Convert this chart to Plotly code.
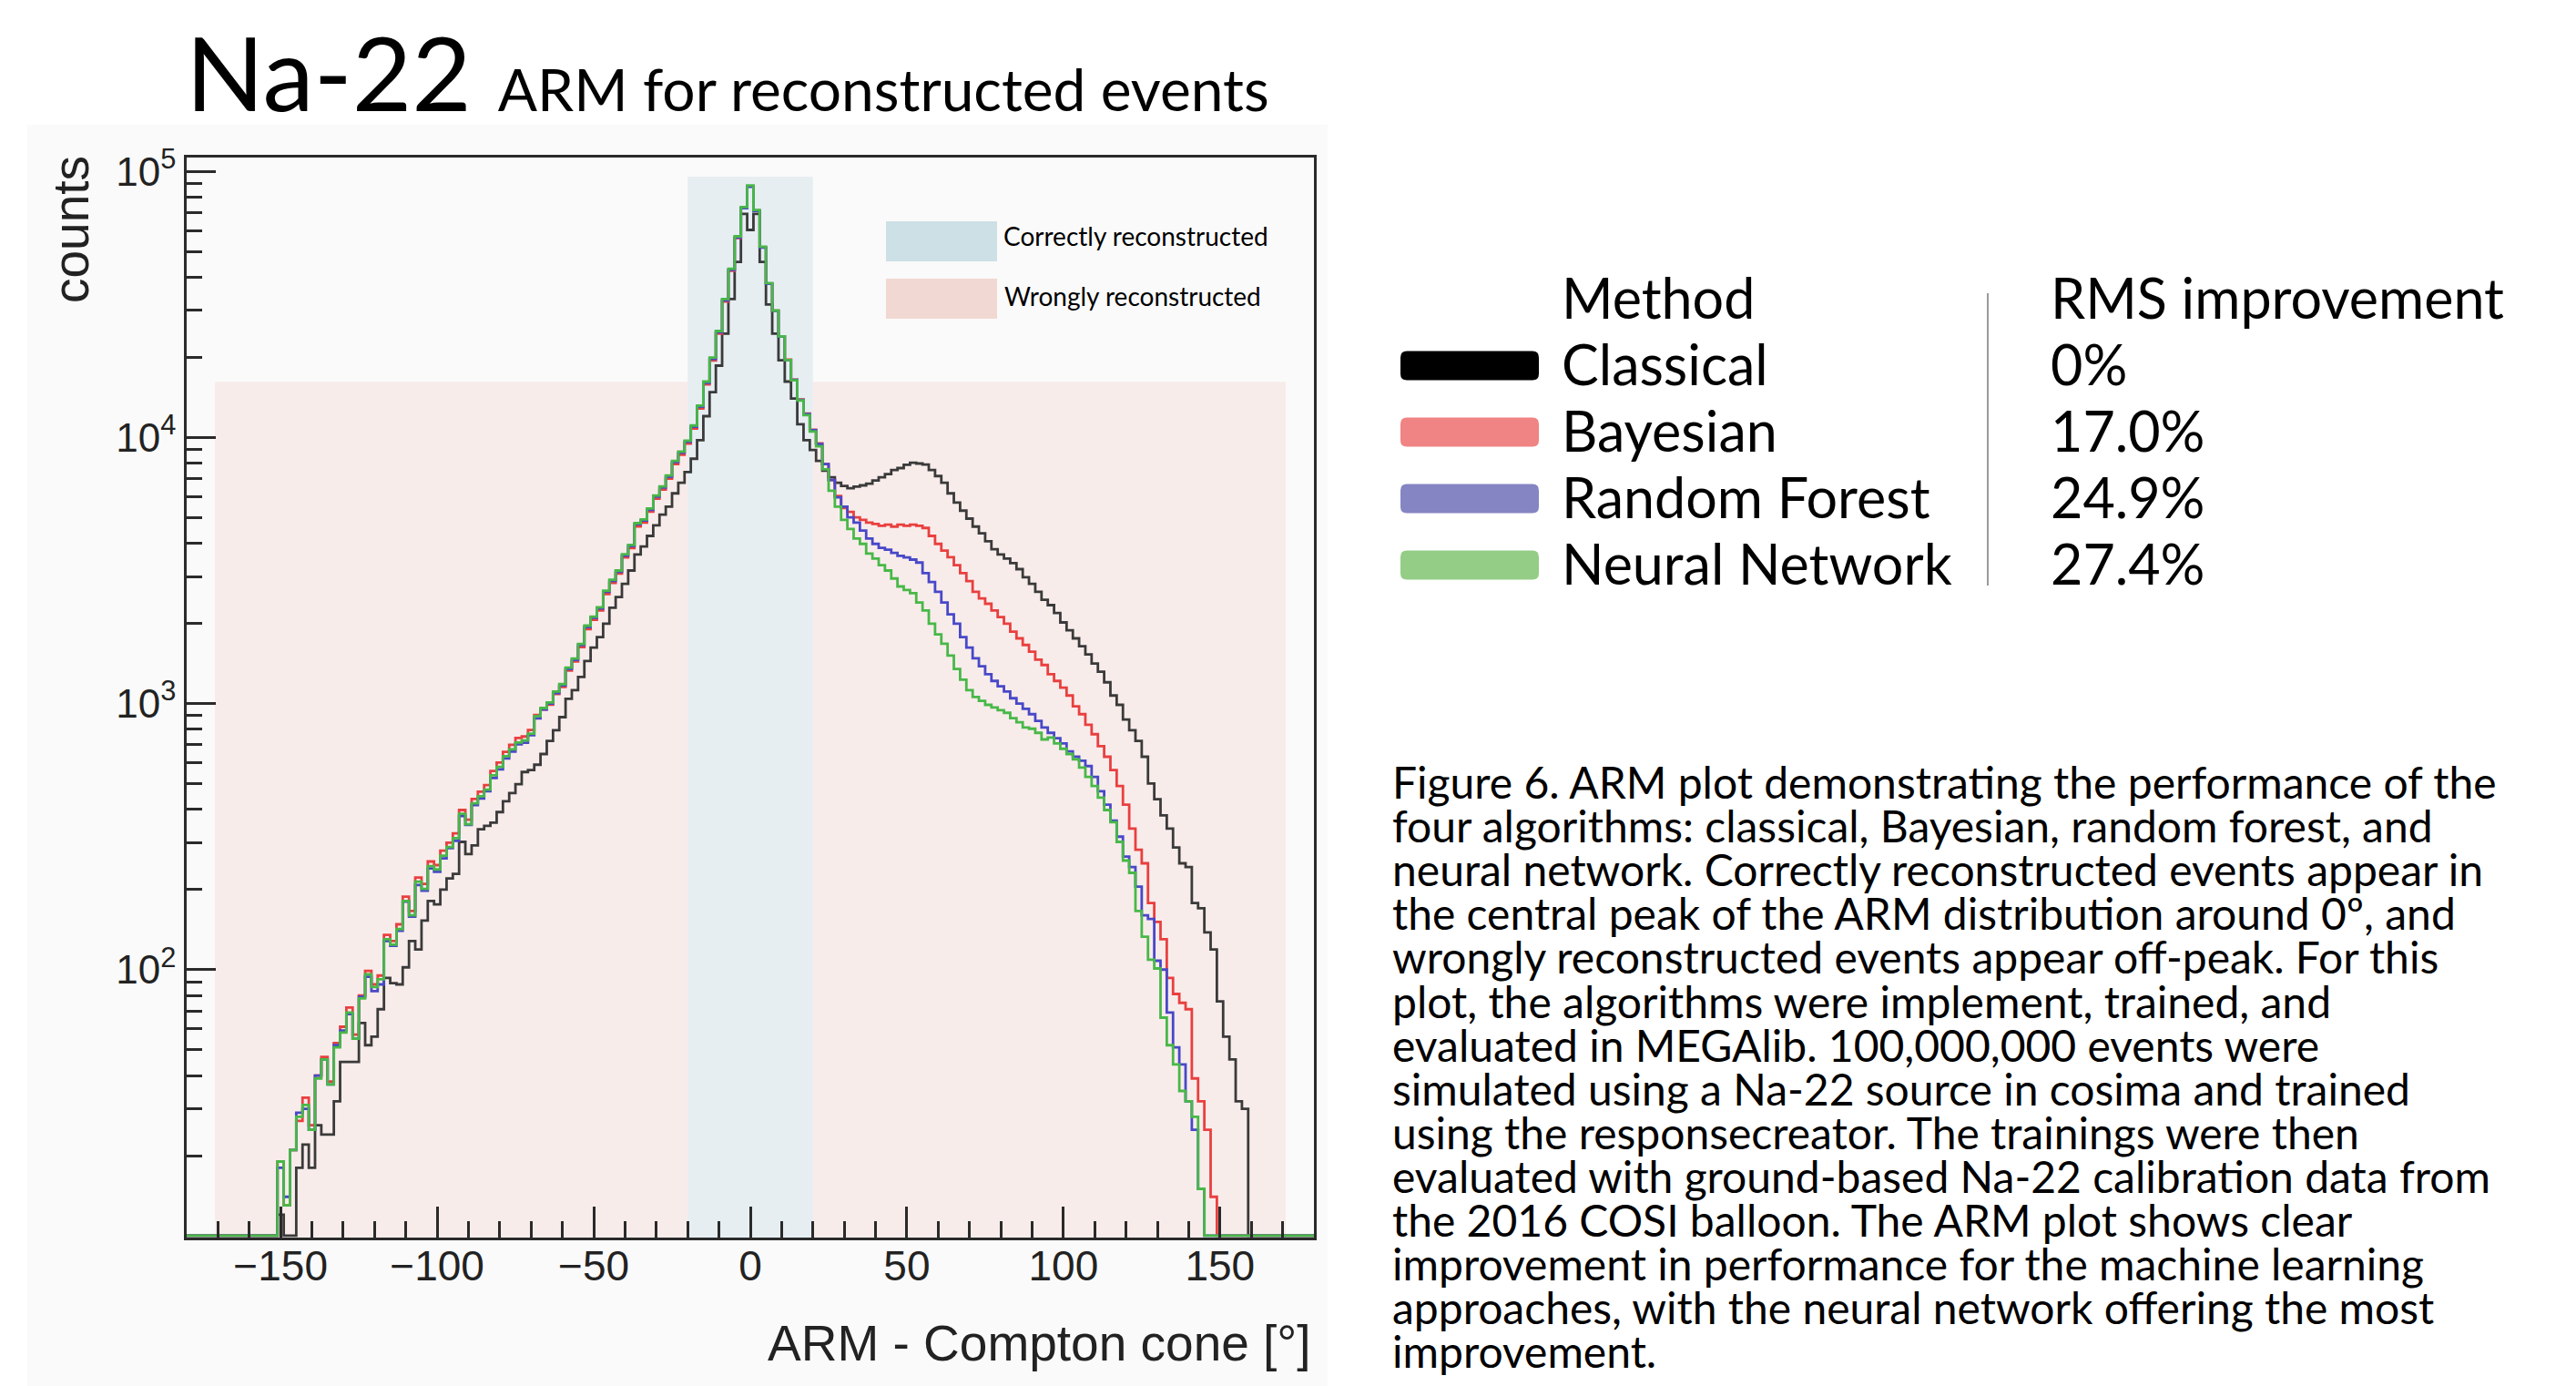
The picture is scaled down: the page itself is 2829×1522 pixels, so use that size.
import plotly.graph_objects as go

W, H = 2829, 1522

# ---------------- data (counts per 2-degree ARM bin) ----------------
ARM_CENTERS = list(range(-180, 181, 2))

CLASSICAL = [0]*15 + [
    12, 0, 0, 18, 22, 18, 26, 24, 24, 32, 45, 45, 45, 63, 52, 56, 71, 93, 89, 88,
    102, 128, 119, 153, 181, 176, 200, 220, 229, 302, 272, 293, 337, 347, 357, 391, 429, 461, 498, 553,
    562, 589, 646, 724, 794, 889, 1042, 1122, 1259, 1445, 1622, 1778, 1995, 2291, 2512, 2818, 3162, 3631, 3890, 4266,
    4677, 5129, 5495, 6166, 6761, 7413, 8318, 9772, 12023, 14791, 18621, 24547, 33113, 45709, 69183, 60256, 69183, 45709, 31623, 24547,
    19498, 16218, 13996, 11220, 9772, 8974, 8166, 7499, 7079, 6761, 6577, 6442, 6531, 6607, 6699, 6887, 7079, 7278, 7551, 7674,
    7889, 8035, 7980, 7907, 7551, 7161, 6761, 6166, 5689, 5309, 4955, 4624, 4365, 4074, 3802, 3631, 3508, 3373, 3199, 2985,
    2818, 2630, 2455, 2344, 2188, 2018, 1884, 1758, 1641, 1531, 1413, 1318, 1202, 1072, 989, 871, 794, 724, 631, 501,
    437, 380, 339, 288, 251, 243, 178, 170, 138, 119, 76, 56, 46, 32, 30] + [0]*11

BAYESIAN = [0]*15 + [
    19, 13, 21, 27, 33, 26, 40, 47, 38, 53, 61, 72, 57, 80, 99, 88, 95, 135, 128, 148,
    188, 166, 222, 210, 255, 247, 280, 300, 325, 398, 366, 438, 466, 494, 558, 600, 658, 700, 742, 752,
    795, 905, 950, 990, 1085, 1155, 1330, 1440, 1630, 1905, 2065, 2240, 2580, 2840, 3080, 3540, 3840, 4630, 4790, 5260,
    5890, 6370, 7000, 7950, 8620, 9480, 10810, 12850, 15820, 19480, 24560, 32450, 42300, 56200, 72800, 87800, 71300, 51800, 37900, 29950,
    24000, 19600, 16500, 13900, 12300, 10700, 9500, 7943, 6918, 6026, 5433, 5248, 5012, 4898, 4786, 4732, 4656, 4699, 4624, 4699,
    4656, 4699, 4656, 4571, 4266, 3981, 3758, 3548, 3311, 3090, 2884, 2630, 2483, 2371, 2239, 2113, 1995, 1862, 1758, 1660,
    1567, 1462, 1396, 1288, 1216, 1148, 1072, 977, 912, 832, 767, 692, 631, 562, 490, 417, 339, 282, 251, 178,
    151, 130, 93, 81, 75, 71, 39, 32, 25, 14] + [0]*16

RANDOM_FOREST = [0]*15 + [
    18, 14, 21, 29, 30, 25, 40, 46, 37, 52, 59, 68, 55, 79, 94, 83, 88, 128, 123, 140,
    180, 158, 208, 198, 240, 233, 262, 286, 305, 378, 350, 415, 440, 468, 525, 566, 622, 660, 703, 712,
    760, 880, 950, 1000, 1095, 1170, 1350, 1460, 1660, 1940, 2100, 2280, 2630, 2890, 3130, 3600, 3905, 4720, 4870, 5350,
    5990, 6480, 7120, 8080, 8760, 9630, 10980, 13050, 16050, 19750, 24870, 32780, 42620, 56450, 72700, 87600, 71000, 51700, 37800, 29900,
    23950, 19550, 16450, 13850, 12250, 10650, 9450, 7943, 6918, 5957, 5495, 5012, 4786, 4467, 4169, 3981, 3846, 3784, 3681, 3589,
    3540, 3475, 3388, 3090, 2864, 2630, 2399, 2163, 1995, 1778, 1622, 1479, 1380, 1288, 1216, 1161, 1109, 1047, 1000, 955,
    912, 861, 813, 776, 741, 708, 661, 631, 610, 582, 530, 468, 417, 363, 316, 266, 243, 205, 160, 155,
    108, 100, 69, 51, 44, 32, 25, 15] + [0]*18

NEURAL_NETWORK = [0]*15 + [
    19, 13, 21, 28, 31, 25, 39, 46, 37, 51, 58, 69, 55, 78, 96, 86, 92, 130, 124, 142,
    181, 160, 214, 201, 245, 238, 268, 289, 312, 385, 352, 422, 448, 475, 537, 578, 634, 673, 714, 726,
    771, 897, 962, 1009, 1109, 1183, 1365, 1476, 1675, 1963, 2123, 2301, 2655, 2917, 3162, 3639, 3945, 4764, 4920, 5408,
    6053, 6546, 7194, 8166, 8851, 9727, 11092, 13183, 16218, 19953, 25119, 33113, 43053, 57016, 73451, 88512, 71614, 52119, 38019, 29992,
    23988, 19543, 16406, 13772, 12134, 10520, 9268, 7586, 6310, 5495, 4898, 4529, 4169, 3981, 3664, 3508, 3311, 3162, 2951, 2754,
    2673, 2600, 2399, 2239, 1995, 1820, 1679, 1514, 1349, 1230, 1122, 1059, 1023, 989, 966, 944, 923, 881, 851, 813,
    804, 776, 733, 745, 708, 676, 646, 617, 575, 530, 490, 443, 398, 358, 302, 257, 231, 166, 133, 109,
    101, 66, 52, 44, 35, 32, 28, 15] + [0]*18

SERIES_NAMES = ["Classical", "Bayesian", "Random Forest", "Neural Network"]
RMS_IMPROVEMENT = ["0%", "17.0%", "24.9%", "27.4%"]
LINE_COLORS = ["#3a3a3a", "#e8403f", "#4848c8", "#48b848"]
SWATCH_COLORS = ["#000000", "#f08383", "#8585c3", "#94cd86"]

X_TICKS = [-150, -100, -50, 0, 50, 100, 150]
Y_TICKS = [100, 1000, 10000, 100000]
Y_TICKTEXT = ["10<sup>2</sup>", "10<sup>3</sup>", "10<sup>4</sup>", "10<sup>5</sup>"]

CORRECT_X = (-20, 20)
CORRECT_TOP = 95500
WRONG_X = (-171, 171)
WRONG_TOP = 16200
Y_FLOOR = 10

CAPTION = [
    "Figure 6. ARM plot demonstrating the performance of the",
    "four algorithms: classical, Bayesian, random forest, and",
    "neural network. Correctly reconstructed events appear in",
    "the central peak of the ARM distribution around 0º, and",
    "wrongly reconstructed events appear off-peak. For this",
    "plot, the algorithms were implement, trained, and",
    "evaluated in MEGAlib. 100,000,000 events were",
    "simulated using a Na-22 source in cosima and trained",
    "using the responsecreator. The trainings were then",
    "evaluated with ground-based Na-22 calibration data from",
    "the 2016 COSI balloon. The ARM plot shows clear",
    "improvement in performance for the machine learning",
    "approaches, with the neural network offering the most",
    "improvement.",
]

for s in (CLASSICAL, BAYESIAN, RANDOM_FOREST, NEURAL_NETWORK):
    assert len(s) == len(ARM_CENTERS), len(s)

# ---------------- helpers (target pixel -> paper, with page-offset correction) ----------------
def px(x):
    return (x - 8) / W

def py(y):
    return 1 - (y - 8) / H

LATO_MID = 0.387

edges = [c - 1 for c in ARM_CENTERS] + [ARM_CENTERS[-1] + 1]

fig = go.Figure()

for (x0, x1), top, col in [(WRONG_X, WRONG_TOP, "#f8eceb"), (CORRECT_X, CORRECT_TOP, "#e6eef2")]:
    fig.add_trace(go.Scatter(x=[x0, x1, x1, x0, x0], y=[1, 1, top, top, 1], mode="lines",
                             fill="toself", fillcolor=col, line=dict(width=0),
                             hoverinfo="skip", showlegend=False))

for vals, col, name in zip([CLASSICAL, BAYESIAN, RANDOM_FOREST, NEURAL_NETWORK], LINE_COLORS, SERIES_NAMES):
    yv = [max(v, Y_FLOOR) for v in vals]
    yv = yv + [yv[-1]]
    fig.add_trace(go.Scatter(x=edges, y=yv, mode="lines", line=dict(color=col, width=2.8, shape="hv"),
                             name=name, showlegend=False, hoverinfo="skip"))

AX = "#2a2a2a"
minor_y = [m * 10 ** e for e in range(1, 5) for m in range(2, 10)]

fig.update_layout(
    width=W, height=H, autosize=False,
    margin=dict(l=0, r=0, t=0, b=0, pad=0),
    paper_bgcolor="white", plot_bgcolor="white", showlegend=False,
    xaxis=dict(domain=[px(205), px(1443)], range=[-180, 180], tickmode="array", tickvals=X_TICKS,
               ticks="inside", ticklen=34, tickwidth=2.5, tickcolor=AX, automargin=False,
               ticklabelstandoff=-11,
               minor=dict(dtick=10, tick0=0, ticks="inside", ticklen=18, tickwidth=2.5, tickcolor=AX),
               showline=True, linewidth=2.5, linecolor=AX, mirror=True, showgrid=False, zeroline=False,
               tickfont=dict(family="Liberation Sans", size=46, color="#222")),
    yaxis=dict(domain=[py(1359), py(173)], type="log", range=[0.993, 5.052], tickmode="array",
               tickvals=Y_TICKS, ticktext=Y_TICKTEXT, automargin=False,
               ticks="inside", ticklen=32, tickwidth=2.5, tickcolor=AX,
               minor=dict(tickmode="array", tickvals=minor_y, ticks="inside", ticklen=17, tickwidth=2.5, tickcolor=AX),
               showline=True, linewidth=2.5, linecolor=AX, mirror=True, showgrid=False, zeroline=False,
               tickfont=dict(family="Liberation Sans", size=44, color="#222")),
)

shapes = []
shapes.append(dict(type="rect", xref="paper", yref="paper", x0=px(30), x1=px(1458), y0=py(1522), y1=py(137),
                   fillcolor="#fafafa", line=dict(width=0), layer="below"))
shapes.append(dict(type="rect", xref="paper", yref="paper", x0=px(973), x1=px(1095), y0=py(287), y1=py(243),
                   fillcolor="#cde0e6", line=dict(width=0)))
shapes.append(dict(type="rect", xref="paper", yref="paper", x0=px(973), x1=px(1095), y0=py(350), y1=py(306),
                   fillcolor="#f2d8d2", line=dict(width=0)))

def rounded(x0, y0, x1, y1, r):
    X0, X1 = px(x0), px(x1)
    Y0, Y1 = py(y0), py(y1)
    rx, ry = r / W, r / H
    return (f"M {X0+rx},{Y0} L {X1-rx},{Y0} Q {X1},{Y0} {X1},{Y0-ry} L {X1},{Y1+ry} Q {X1},{Y1} {X1-rx},{Y1} "
            f"L {X0+rx},{Y1} Q {X0},{Y1} {X0},{Y1+ry} L {X0},{Y0-ry} Q {X0},{Y0} {X0+rx},{Y0} Z")

BASELINES = [350, 423.5, 496.5, 569.5, 642.5]
for i, col in enumerate(SWATCH_COLORS):
    cy = BASELINES[i + 1] - 22
    shapes.append(dict(type="path", xref="paper", yref="paper", path=rounded(1538, cy - 16, 1690, cy + 16, 7),
                       fillcolor=col, line=dict(width=0)))
shapes.append(dict(type="line", xref="paper", yref="paper", x0=px(2183), x1=px(2183), y0=py(322), y1=py(643),
                   line=dict(color="#9a9a9a", width=2)))

ann = []

def text(t, x, y, size, family="Lato", xanchor="left", color="#000", angle=0, align="left"):
    ann.append(dict(text=t, xref="paper", yref="paper", x=px(x), y=py(y), xanchor=xanchor, yanchor="middle",
                    align=align, showarrow=False, textangle=angle,
                    font=dict(family=family, size=size, color=color)))

# title
TITLE_BIG = 113
text(f"<span style='font-size:{TITLE_BIG}px'>Na-22 </span>ARM for reconstructed events",
     202, 122 - LATO_MID * TITLE_BIG, 64)
# axis titles
text("counts", 78, 252, 55, family="Liberation Sans", xanchor="center", color="#222", angle=-90, align="center")
text("ARM - Compton cone [°]", 1442, 1475, 55, family="Liberation Sans", xanchor="right", color="#222")
# in-plot legend
text("Correctly reconstructed", 1100, 270 - LATO_MID * 28, 28)
text("Wrongly reconstructed", 1101, 336 - LATO_MID * 28, 28)
# table
text("Method", 1713, BASELINES[0] - LATO_MID * 61, 61)
text("RMS improvement", 2250, BASELINES[0] - LATO_MID * 61, 61)
for i, (nm, v) in enumerate(zip(SERIES_NAMES, RMS_IMPROVEMENT)):
    text(nm, 1713, BASELINES[i + 1] - LATO_MID * 61, 61)
    text(v, 2250, BASELINES[i + 1] - LATO_MID * 61, 61)
# caption: one block; base size 37 gives 48 px line pitch, glyphs drawn at 48 px
CAP_SIZE, CAP_PITCH, CAP_B1 = 48, 37 * 1.3, 876.5
cap_text = "<br>".join(f"<span style='font-size:{CAP_SIZE}px'>{ln}</span>" for ln in CAPTION)
cap_center = CAP_B1 + (len(CAPTION) - 1) * CAP_PITCH / 2 - LATO_MID * CAP_SIZE
text(cap_text, 1527, cap_center, 37)

fig.update_layout(shapes=shapes, annotations=ann)
fig.write_html("out.html")
